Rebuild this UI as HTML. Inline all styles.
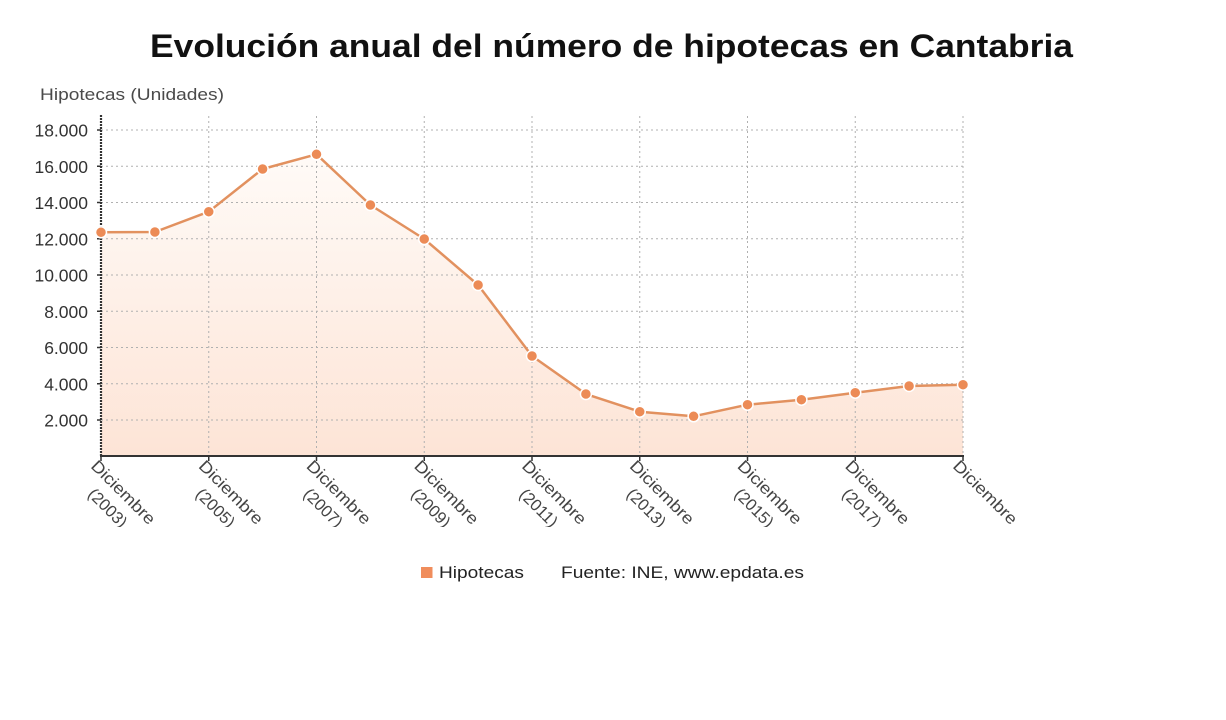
<!DOCTYPE html>
<html>
<head>
<meta charset="utf-8">
<style>
html,body{margin:0;padding:0;background:#fff;}
svg{display:block;}
text{font-family:"Liberation Sans","DejaVu Sans",sans-serif;}
</style>
</head>
<body>
<svg width="1226" height="720" viewBox="0 0 1226 720" xmlns="http://www.w3.org/2000/svg">
<defs>
<linearGradient id="fillg" x1="0" y1="150" x2="0" y2="456" gradientUnits="userSpaceOnUse">
<stop offset="0" stop-color="#fffbf8"/>
<stop offset="1" stop-color="#fde4d6"/>
</linearGradient>
<clipPath id="lblclip"><rect x="0" y="457" width="1226" height="70"/></clipPath>
</defs>
<rect width="1226" height="720" fill="#fff"/>

<!-- Title -->
<text x="150" y="57" font-size="32" font-weight="bold" fill="#111" textLength="923" lengthAdjust="spacingAndGlyphs">Evolución anual del número de hipotecas en Cantabria</text>

<!-- Y axis title -->
<text x="40" y="100" font-size="17" fill="#4a4a4a" textLength="184" lengthAdjust="spacingAndGlyphs">Hipotecas (Unidades)</text>

<!-- area -->
<polygon fill="url(#fillg)" points="101,456 101,232.3 154.9,232 208.75,211.7 262.6,169 316.5,154.3 370.4,205 424.25,239 478.1,285 532,356 585.9,394 639.75,411.7 693.6,416.3 747.5,404.7 801.4,399.7 855.25,392.7 909.1,386 963,384.7 963,456"/>

<!-- horizontal grid -->
<g stroke="#b0b0b0" stroke-width="1" stroke-dasharray="2,3">
<line x1="101" y1="420" x2="963" y2="420"/>
<line x1="101" y1="383.75" x2="963" y2="383.75"/>
<line x1="101" y1="347.5" x2="963" y2="347.5"/>
<line x1="101" y1="311.25" x2="963" y2="311.25"/>
<line x1="101" y1="275" x2="963" y2="275"/>
<line x1="101" y1="238.75" x2="963" y2="238.75"/>
<line x1="101" y1="202.5" x2="963" y2="202.5"/>
<line x1="101" y1="166.25" x2="963" y2="166.25"/>
<line x1="101" y1="130" x2="963" y2="130"/>
</g>
<!-- vertical grid -->
<g stroke="#b0b0b0" stroke-width="1" stroke-dasharray="2,3">
<line x1="208.75" y1="116" x2="208.75" y2="456"/>
<line x1="316.5" y1="116" x2="316.5" y2="456"/>
<line x1="424.25" y1="116" x2="424.25" y2="456"/>
<line x1="532" y1="116" x2="532" y2="456"/>
<line x1="639.75" y1="116" x2="639.75" y2="456"/>
<line x1="747.5" y1="116" x2="747.5" y2="456"/>
<line x1="855.25" y1="116" x2="855.25" y2="456"/>
<line x1="963" y1="116" x2="963" y2="456"/>
</g>

<!-- y axis -->
<line x1="101" y1="115" x2="101" y2="456" stroke="#333" stroke-width="2.2" stroke-dasharray="2,1"/>
<g stroke="#333" stroke-width="1.5">
<line x1="97" y1="420" x2="101" y2="420"/>
<line x1="97" y1="383.75" x2="101" y2="383.75"/>
<line x1="97" y1="347.5" x2="101" y2="347.5"/>
<line x1="97" y1="311.25" x2="101" y2="311.25"/>
<line x1="97" y1="275" x2="101" y2="275"/>
<line x1="97" y1="238.75" x2="101" y2="238.75"/>
<line x1="97" y1="202.5" x2="101" y2="202.5"/>
<line x1="97" y1="166.25" x2="101" y2="166.25"/>
<line x1="97" y1="130" x2="101" y2="130"/>
</g>
<g font-size="17.5" fill="#333" text-anchor="end">
<text x="88" y="426.5">2.000</text>
<text x="88" y="390.25">4.000</text>
<text x="88" y="354">6.000</text>
<text x="88" y="317.75">8.000</text>
<text x="88" y="281.5">10.000</text>
<text x="88" y="245.25">12.000</text>
<text x="88" y="209">14.000</text>
<text x="88" y="172.75">16.000</text>
<text x="88" y="136.5">18.000</text>
</g>

<!-- x axis -->
<line x1="100" y1="456" x2="964" y2="456" stroke="#333" stroke-width="2"/>
<g stroke="#333" stroke-width="1.5">
<line x1="101" y1="456" x2="101" y2="461"/>
<line x1="208.75" y1="456" x2="208.75" y2="461"/>
<line x1="316.5" y1="456" x2="316.5" y2="461"/>
<line x1="424.25" y1="456" x2="424.25" y2="461"/>
<line x1="532" y1="456" x2="532" y2="461"/>
<line x1="639.75" y1="456" x2="639.75" y2="461"/>
<line x1="747.5" y1="456" x2="747.5" y2="461"/>
<line x1="855.25" y1="456" x2="855.25" y2="461"/>
<line x1="963" y1="456" x2="963" y2="461"/>
</g>

<!-- x labels -->
<g clip-path="url(#lblclip)" font-size="16.5" fill="#444">
<g transform="translate(101,456) rotate(45)"><text x="0" y="15.5" textLength="83" lengthAdjust="spacingAndGlyphs">Diciembre</text><text x="41.5" y="37.5" text-anchor="middle">(2003)</text></g>
<g transform="translate(208.75,456) rotate(45)"><text x="0" y="15.5" textLength="83" lengthAdjust="spacingAndGlyphs">Diciembre</text><text x="41.5" y="37.5" text-anchor="middle">(2005)</text></g>
<g transform="translate(316.5,456) rotate(45)"><text x="0" y="15.5" textLength="83" lengthAdjust="spacingAndGlyphs">Diciembre</text><text x="41.5" y="37.5" text-anchor="middle">(2007)</text></g>
<g transform="translate(424.25,456) rotate(45)"><text x="0" y="15.5" textLength="83" lengthAdjust="spacingAndGlyphs">Diciembre</text><text x="41.5" y="37.5" text-anchor="middle">(2009)</text></g>
<g transform="translate(532,456) rotate(45)"><text x="0" y="15.5" textLength="83" lengthAdjust="spacingAndGlyphs">Diciembre</text><text x="41.5" y="37.5" text-anchor="middle">(2011)</text></g>
<g transform="translate(639.75,456) rotate(45)"><text x="0" y="15.5" textLength="83" lengthAdjust="spacingAndGlyphs">Diciembre</text><text x="41.5" y="37.5" text-anchor="middle">(2013)</text></g>
<g transform="translate(747.5,456) rotate(45)"><text x="0" y="15.5" textLength="83" lengthAdjust="spacingAndGlyphs">Diciembre</text><text x="41.5" y="37.5" text-anchor="middle">(2015)</text></g>
<g transform="translate(855.25,456) rotate(45)"><text x="0" y="15.5" textLength="83" lengthAdjust="spacingAndGlyphs">Diciembre</text><text x="41.5" y="37.5" text-anchor="middle">(2017)</text></g>
<g transform="translate(963,456) rotate(45)"><text x="0" y="15.5" textLength="83" lengthAdjust="spacingAndGlyphs">Diciembre</text></g>
</g>

<!-- series line -->
<polyline fill="none" stroke="#e2915f" stroke-width="2.5" stroke-linejoin="round" points="101,232.3 154.9,232 208.75,211.7 262.6,169 316.5,154.3 370.4,205 424.25,239 478.1,285 532,356 585.9,394 639.75,411.7 693.6,416.3 747.5,404.7 801.4,399.7 855.25,392.7 909.1,386 963,384.7"/>
<g fill="#ec8b56" stroke="#fff" stroke-width="1.5">
<circle cx="101" cy="232.3" r="5.5"/>
<circle cx="154.9" cy="232" r="5.5"/>
<circle cx="208.75" cy="211.7" r="5.5"/>
<circle cx="262.6" cy="169" r="5.5"/>
<circle cx="316.5" cy="154.3" r="5.5"/>
<circle cx="370.4" cy="205" r="5.5"/>
<circle cx="424.25" cy="239" r="5.5"/>
<circle cx="478.1" cy="285" r="5.5"/>
<circle cx="532" cy="356" r="5.5"/>
<circle cx="585.9" cy="394" r="5.5"/>
<circle cx="639.75" cy="411.7" r="5.5"/>
<circle cx="693.6" cy="416.3" r="5.5"/>
<circle cx="747.5" cy="404.7" r="5.5"/>
<circle cx="801.4" cy="399.7" r="5.5"/>
<circle cx="855.25" cy="392.7" r="5.5"/>
<circle cx="909.1" cy="386" r="5.5"/>
<circle cx="963" cy="384.7" r="5.5"/>
</g>

<!-- legend -->
<rect x="421" y="567" width="11.5" height="11" fill="#f08d5c"/>
<text x="439" y="578" font-size="17" fill="#222" textLength="85" lengthAdjust="spacingAndGlyphs">Hipotecas</text>
<text x="561" y="578" font-size="17" fill="#222" textLength="243" lengthAdjust="spacingAndGlyphs">Fuente: INE, www.epdata.es</text>
</svg>
</body>
</html>
